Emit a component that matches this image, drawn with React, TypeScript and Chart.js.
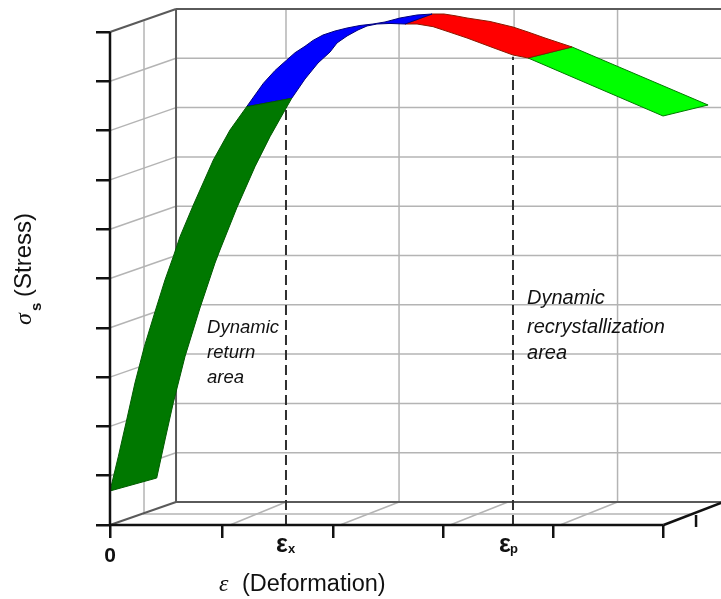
import React, { useEffect, useRef } from "react";
import { Chart, registerables } from "chart.js";

Chart.register(...registerables);

const xTicks = [0, 1.014, 2.024, 3.02, 4.016, 5.014];
const yTicks = [0, 1, 2, 3, 4, 5, 6, 7, 8, 9, 10];
const xTicksMax = 5.014;
const yTicksMax = 10;
const xLimit = 5.534;
const yLimit = 10.649;
const depthX = 0.598;
const depthY = 0.4665;

const stressLevels = [1, 2, 3, 4, 5, 6, 7, 8, 9];

const returnX = [0, 0.075, 0.151, 0.226, 0.311, 0.408, 0.498, 0.573, 0.634, 0.755, 0.936, 1.087, 1.238, 1.646, 1.57, 1.449, 1.313, 1.148, 0.996, 0.951, 0.815, 0.679, 0.573, 0.498, 0.423, 0];
const returnY = [0.69, 1.385, 2.13, 2.88, 3.617, 4.327, 4.97, 5.442, 5.848, 6.491, 7.404, 8.012, 8.485, 8.655, 8.357, 7.876, 7.268, 6.43, 5.578, 5.314, 4.402, 3.414, 2.475, 1.724, 0.953, 0.69];

const blueX = [1.238, 1.389, 1.495, 1.601, 1.676, 1.766, 1.839, 1.929, 2.038, 2.147, 2.264, 2.382, 2.491, 2.627, 2.781, 2.917, 2.672, 2.536, 2.418, 2.328, 2.246, 2.147, 2.056, 1.993, 1.884, 1.766, 1.646, 1.238];
const blueY = [8.485, 8.959, 9.22, 9.432, 9.58, 9.71, 9.83, 9.939, 10.02, 10.081, 10.132, 10.162, 10.203, 10.284, 10.345, 10.365, 10.162, 10.173, 10.162, 10.122, 10.041, 9.919, 9.777, 9.594, 9.371, 9.046, 8.655, 8.485];

const redX = [2.672, 2.917, 3.025, 3.125, 3.234, 3.442, 3.65, 3.786, 3.94, 4.076, 4.185, 3.786, 3.65, 3.469, 3.234, 3.08, 2.926, 2.781, 2.672];
const redY = [10.162, 10.365, 10.365, 10.33, 10.284, 10.213, 10.101, 10.0, 9.878, 9.777, 9.696, 9.473, 9.533, 9.682, 9.878, 9.994, 10.108, 10.162, 10.162];

const limeX = [4.185, 5.417, 5.009, 3.786, 4.185];
const limeY = [9.696, 8.519, 8.296, 9.473, 9.696];

const wallGridX = [2.618, 4.597];
const shortGridX = [1.594, 3.66];
const shortGridBottom = [9.47, 10.1];
const floorFrontX = [1.087, 2.083, 3.08, 4.076];
const floorBackX = [1.594, 2.618, 3.605, 4.597];

const strainCritical = 1.594;
const strainPeak = 3.65;
const criticalTop = 8.458;
const peakTop = 9.5;

const lightGrid = "#b4b4b4";
const darkGrid = "#5a5a5a";
const inkColor = "#111111";

type Style = Record<string, unknown>;
const series = (xs: number[], ys: number[], style: Style) => ({
  data: xs.map((x, i) => ({ x, y: ys[i] })),
  showLine: true,
  pointRadius: 0,
  clip: false,
  tension: 0,
  borderCapStyle: "butt",
  ...style,
});
const grid = (xs: number[], ys: number[]) =>
  series(xs, ys, { borderColor: lightGrid, borderWidth: 1.5, order: 5 });
const frame = (xs: number[], ys: number[]) =>
  series(xs, ys, { borderColor: darkGrid, borderWidth: 2, order: 4 });
const patch = (xs: number[], ys: number[], color: string, edge: string) =>
  series(xs, ys, { backgroundColor: color, borderColor: edge, borderWidth: 1, fill: "shape", order: 3 });

const labelFont = '"Liberation Sans", Arial, sans-serif';

const textPlugin = {
  id: "textLabels",
  afterDraw(chart: any) {
    const { ctx, scales } = chart;
    const px = (v: number) => scales.x.getPixelForValue(v);
    const py = (v: number) => scales.y.getPixelForValue(v);
    const put = (t: string, x: number, y: number, font: string, color = inkColor) => {
      ctx.font = font;
      ctx.fillStyle = color;
      ctx.fillText(t, x, y);
    };
    ctx.save();
    ctx.textAlign = "left";
    ctx.textBaseline = "alphabetic";
    const it = `italic 18.5px ${labelFont}`;
    put("Dynamic", px(0.879), py(3.895), it);
    put("return", px(0.879), py(3.387), it);
    put("area", px(0.879), py(2.88), it);
    const it2 = `italic 20px ${labelFont}`;
    put("Dynamic", px(3.777), py(4.483), it2);
    put("recrystallization", px(3.777), py(3.895), it2);
    put("area", px(3.777), py(3.367), it2);

    put("\u03b5", 276, 552, `bold 25px ${labelFont}`);
    put("x", 288, 553, `bold 13px ${labelFont}`);
    put("\u03b5", 499, 552, `bold 25px ${labelFont}`);
    put("p", 510, 553, `bold 13px ${labelFont}`);

    put("\u03b5", 219, 591, `italic 24px "Liberation Serif", serif`);
    put("(Deformation)", 242, 591, `23.5px ${labelFont}`);

    ctx.translate(31, 0);
    ctx.rotate(-Math.PI / 2);
    put("\u03c3", -325, 0, `italic 24px "Liberation Serif", serif`);
    put("s", -311, 10, `bold 15px ${labelFont}`);
    put("(Stress)", -297, 0, `24px ${labelFont}`);
    ctx.restore();
  },
};

export default function App() {
  const ref = useRef<HTMLCanvasElement>(null);
  useEffect(() => {
    const datasets: any[] = [];
    for (const k of stressLevels) {
      datasets.push(grid([0, depthX], [k, k + depthY]));
      datasets.push(grid([depthX, xLimit], [k + depthY, k + depthY]));
    }
    wallGridX.forEach((x) => datasets.push(grid([x, x], [depthY, yTicksMax + depthY])));
    shortGridX.forEach((x, i) => datasets.push(grid([x, x], [shortGridBottom[i], yTicksMax + depthY])));
    floorFrontX.forEach((x, i) => datasets.push(grid([x, floorBackX[i]], [0, depthY])));
    datasets.push(grid([0.308, 0.308], [0.223, 10.22]));
    datasets.push(grid([0.299, 5.254], [0.223, 0.223]));

    datasets.push(frame([depthX, depthX], [depthY, yTicksMax + depthY]));
    datasets.push(frame([depthX, xLimit], [depthY, depthY]));
    datasets.push(frame([depthX, xLimit], [yTicksMax + depthY, yTicksMax + depthY]));
    datasets.push(frame([0, depthX], [0, depthY]));
    datasets.push(frame([0, depthX], [yTicksMax, yTicksMax + depthY]));

    datasets.push(patch(returnX, returnY, "#007800", "#005a00"));
    datasets.push(patch(blueX, blueY, "#0000ff", "#00007a"));
    datasets.push(patch(redX, redY, "#ff0000", "#8a1a00"));
    datasets.push(patch(limeX, limeY, "#00ff00", "#007a00"));

    const dash = { borderColor: "#303030", borderWidth: 2, borderDash: [10, 5], order: 2 };
    datasets.push(series([strainCritical, strainCritical], [0, criticalTop], dash));
    datasets.push(series([strainPeak, strainPeak], [0, peakTop], dash));

    const axis = { borderColor: "#111111", borderWidth: 2.5, order: 1 };
    datasets.push(series([0, xTicksMax], [0, 0], axis));
    datasets.push(series([0, 0], [0, yTicksMax], axis));
    datasets.push(series([xTicksMax, xLimit], [0, 0.446], axis));
    datasets.push(series([5.308, 5.308], [-0.04, 0.203], axis));

    const chart = new Chart(ref.current!, {
      type: "scatter",
      data: { datasets },
      plugins: [textPlugin],
      options: {
        responsive: false,
        animation: false,
        layout: { padding: 0 },
        plugins: { legend: { display: false }, tooltip: { enabled: false } },
        scales: {
          x: {
            type: "linear",
            min: 0,
            max: xLimit,
            afterFit: (s: any) => { s.height = 74; },
            afterBuildTicks: (s: any) => { s.ticks = xTicks.map((value) => ({ value })); },
            border: { display: false },
            grid: { drawOnChartArea: false, tickLength: 13, color: "#111111", lineWidth: 2.5 },
            ticks: {
              includeBounds: false,
              maxRotation: 0,
              autoSkip: false,
              padding: 6,
              color: inkColor,
              font: { family: "Liberation Sans", size: 21, weight: "bold" },
              callback: (v: any) => (v === 0 ? "0" : ""),
            },
          },
          y: {
            type: "linear",
            min: 0,
            max: yLimit,
            afterFit: (s: any) => { s.width = 110; },
            afterBuildTicks: (s: any) => { s.ticks = yTicks.map((value) => ({ value })); },
            border: { display: false },
            grid: { drawOnChartArea: false, tickLength: 14, color: "#111111", lineWidth: 2.5 },
            ticks: { includeBounds: false, display: false },
          },
        },
      } as any,
    } as any);
    return () => chart.destroy();
  }, []);
  return (
    <div style={{ position: "absolute", left: 0, top: 0, width: 721, height: 599, overflow: "hidden" }}>
      <canvas ref={ref} width={721} height={599} style={{ display: "block", filter: "blur(0.5px)" }} />
    </div>
  );
}
